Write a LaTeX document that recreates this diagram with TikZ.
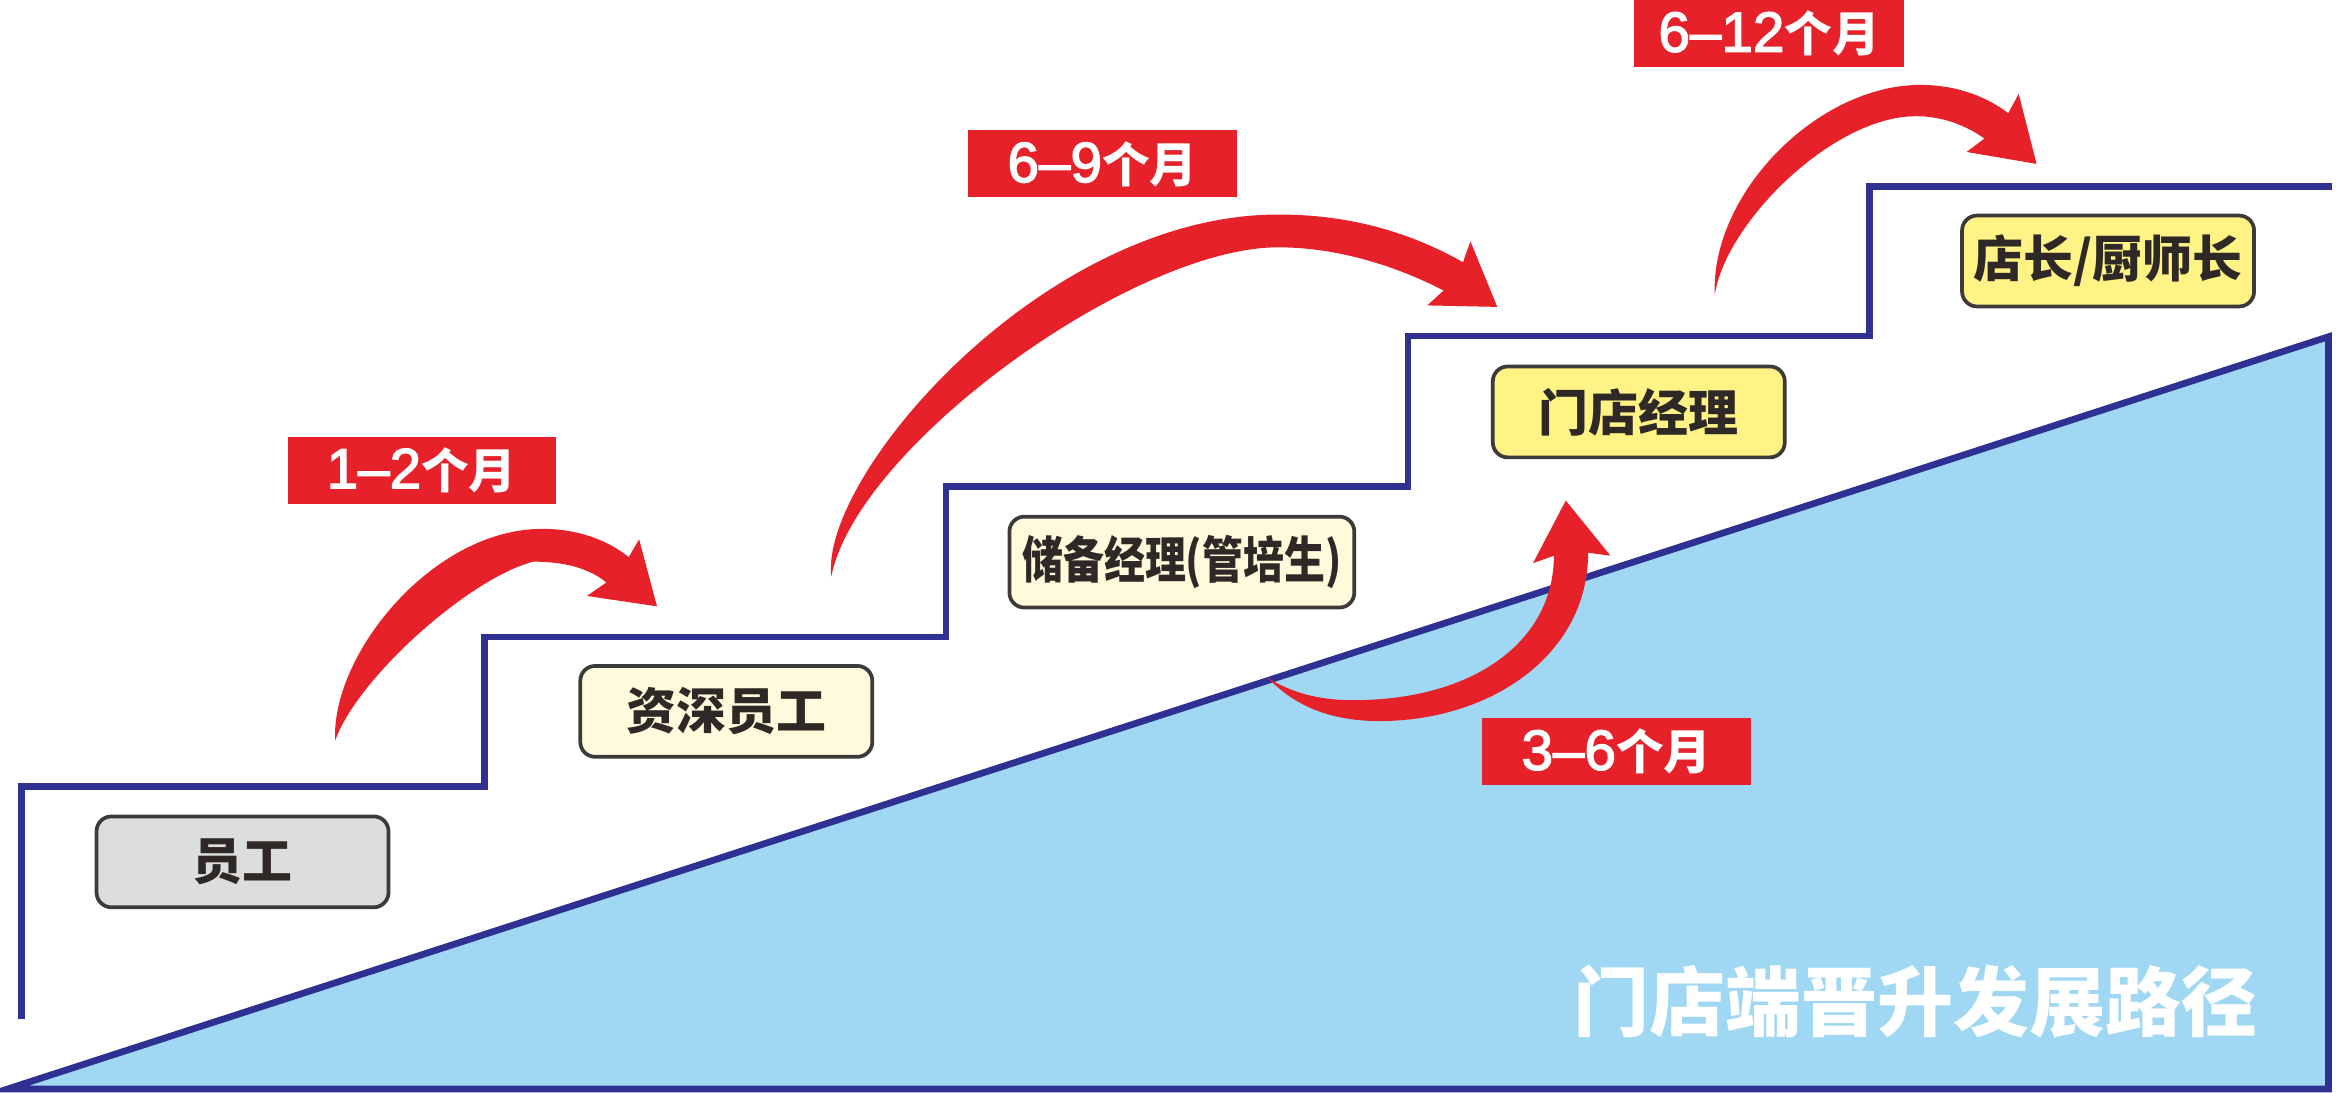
\documentclass[tikz,border=0pt]{standalone}
\usepackage{fontspec}
\setmainfont{Liberation Sans}
\newfontfamily\cjk{Noto Sans CJK SC}
\newfontfamily\tagdig{Liberation Sans}[FakeBold=2.5]
\definecolor{navy}{HTML}{2E3192}
\definecolor{redc}{HTML}{E62129}
\definecolor{sky}{HTML}{A0D8F4}
\definecolor{graybox}{HTML}{DCDDDD}
\definecolor{cream}{HTML}{FFFADB}
\definecolor{yellowbox}{HTML}{FFF385}
\definecolor{boxline}{HTML}{3E3A39}
\definecolor{txt}{HTML}{2E2826}
\tikzset{
  stair/.style={draw=navy, line width=4.5pt, line join=miter},
  slope/.style={fill=sky, draw=navy, line width=4.5pt, line join=miter},
  stepbox/.style={draw=boxline, line width=2.5pt, rounded corners=10pt,
    minimum height=61pt, minimum width=196pt, inner sep=0pt, text=txt,
    font=\cjk\bfseries\fontsize{33.5}{40}\selectfont},
  tag/.style={fill=redc, minimum width=180pt, minimum height=45pt, inner sep=0pt,
    text=white, font=\tagdig\fontsize{38}{40}\selectfont},
  redarrow/.style={fill=redc},
}
\newcommand{\cm}{{\cjk\bfseries\fontsize{32}{40}\selectfont 个月}}
\begin{document}
\begin{tikzpicture}[x=1pt,y=-1pt]
\useasboundingbox (0,0) rectangle (1568,733);
% slope triangle
\path[slope] (5,731) -- (1563,226) -- (1563,731) -- cycle;
% staircase
\draw[stair] (14.6,684) -- (14.6,528) -- (325,528) -- (325,427.5) -- (635,427.5)
  -- (635,326.5) -- (945,326.5) -- (945,225.5) -- (1255,225.5) -- (1255,125) -- (1565,125);
% boxes
\node[stepbox, fill=graybox] (b1) at (162.8,578.5) {员工};
\node[stepbox, fill=cream] (b2) at (487.5,477.5) {资深员工};
\node[stepbox, fill=cream, minimum width=231.5pt] (b3) at (793.3,377.3) {\scalebox{0.82}[1]{储备经理(管培生)}};
\node[stepbox, fill=yellowbox] (b4) at (1100,276.5) {门店经理};
\node[stepbox, fill=yellowbox] (b5) at (1415,175.2) {店长/厨师长};
% arrows
\fill[redarrow] (225,497) .. controls (222,440) and (290,355) .. (364,355)
  .. controls (390,355) and (410,364) .. (422,374) -- (429,362) -- (441,407) -- (394,400) -- (407,391)
  .. controls (395,381) and (378,377) .. (358,377) .. controls (315,388) and (240,455) .. (225,497) -- cycle;
\fill[redarrow] (558,387) .. controls (550,320) and (700,144) .. (858,144)
  .. controls (910,144) and (950,158) .. (982,176) -- (987,162) -- (1005,206) -- (958,205) -- (969,195)
  .. controls (940,180) and (900,166) .. (858,166) .. controls (760,166) and (575,300) .. (558,387) -- cycle;
\fill[redarrow] (851,455) .. controls (870,475) and (895,484) .. (926,484)
  .. controls (1000,484) and (1066,440) .. (1066,371) -- (1081,373) -- (1051,336) -- (1029,378) -- (1043,373)
  .. controls (1043,430) and (990,470) .. (908,470) .. controls (880,470) and (862,462) .. (851,455) -- cycle;
\fill[redarrow] (1151,198) .. controls (1148,130) and (1220,57) .. (1289,57)
  .. controls (1315,57) and (1335,66) .. (1348,76) -- (1355,63) -- (1367,110) -- (1320,102) -- (1332,93)
  .. controls (1318,83) and (1302,78) .. (1286,78) .. controls (1230,78) and (1158,150) .. (1151,198) -- cycle;
% duration tags
\node[tag] (t1) at (283,315.5) {1–2\cm};
\node[tag] (t2) at (740,110) {6–9\cm};
\node[tag] (t3) at (1085,504.5) {3–6\cm};
\node[tag, minimum width=181pt] (t4) at (1187.5,22.5) {6–12\cm};
% title
\node[font=\cjk\bfseries\fontsize{51}{60}\selectfont, text=white, inner sep=0pt] (title) at (1286,672.5) {门店端晋升发展路径};
\end{tikzpicture}
\end{document}
